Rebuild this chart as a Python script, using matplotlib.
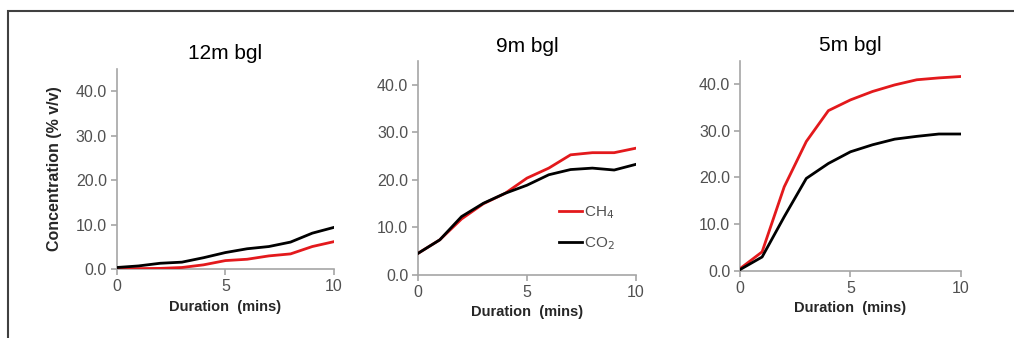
import matplotlib
matplotlib.use("Agg")
import matplotlib.pyplot as plt
from matplotlib.patches import Rectangle

plt.rcParams['font.family'] = ['Liberation Sans', 'DejaVu Sans']

# sampling times (minutes)
minutes = [0, 1, 2, 3, 4, 5, 6, 7, 8, 9, 10]

# gas concentrations (% v/v) at each depth
ch4_12m = [0.15, 0.15, 0.2, 0.4, 1.0, 1.95, 2.25, 3.0, 3.45, 5.1, 6.2]
co2_12m = [0.4, 0.75, 1.35, 1.6, 2.6, 3.75, 4.6, 5.1, 6.1, 8.1, 9.4]
ch4_9m = [4.55, 7.4, 11.8, 15.0, 17.2, 20.4, 22.5, 25.3, 25.75, 25.75, 26.7]
co2_9m = [4.55, 7.4, 12.3, 15.1, 17.2, 18.9, 21.1, 22.2, 22.5, 22.1, 23.3]
ch4_5m = [0.5, 4.1, 18.0, 27.7, 34.3, 36.6, 38.4, 39.8, 40.9, 41.3, 41.6]
co2_5m = [0.3, 3.0, 11.6, 19.8, 23.0, 25.5, 27.0, 28.2, 28.8, 29.3, 29.3]

panels = [
    ("12m bgl", ch4_12m, co2_12m, [0.1151, 0.2033, 0.2143, 0.5937]),
    ("9m bgl", ch4_9m, co2_9m, [0.4122, 0.1864, 0.2150, 0.6324]),
    ("5m bgl", ch4_5m, co2_5m, [0.7298, 0.1982, 0.2179, 0.6225]),
]

RED = '#e3191c'
GREY_TXT = '#505050'
GREY_AX = '#a6a6a6'

fig = plt.figure(figsize=(10.14, 3.38), dpi=100)

# outer frame (runs off the right and bottom edge like the source image)
fig.patches.append(Rectangle((8 / 1014, -0.1), 1.2, (338 - 11) / 338 + 0.1,
                             transform=fig.transFigure, fill=False,
                             edgecolor='#404040', linewidth=1.5))

axes = []
for title, ch4, co2, pos in panels:
    ax = fig.add_axes(pos)
    ax.plot(minutes, ch4, color=RED, lw=2.0, label='CH$_4$', zorder=3)
    ax.plot(minutes, co2, color='black', lw=2.0, label='CO$_2$', zorder=3)
    ax.set_xlim(0, 10)
    ax.set_ylim(0, 45)
    ax.set_xticks([0, 5, 10])
    ax.set_yticks([0, 10, 20, 30, 40])
    ax.set_yticklabels([f"{v:.1f}" for v in [0, 10, 20, 30, 40]])
    for s in ['top', 'right']:
        ax.spines[s].set_visible(False)
    for s in ['left', 'bottom']:
        ax.spines[s].set_color(GREY_AX)
        ax.spines[s].set_linewidth(1.2)
    ax.tick_params(direction='out', length=4, width=1.2, color=GREY_AX,
                   labelcolor=GREY_TXT, labelsize=11.5, pad=3)
    ax.set_title(title, fontsize=15, pad=7)
    ax.set_xlabel('Duration  (mins)', fontsize=10.5, fontweight='bold',
                  color='#262626', labelpad=4)
    ax.patch.set_visible(False)
    axes.append(ax)

axes[0].set_ylabel('Concentration (% v/v)', fontsize=11.5, fontweight='bold',
                   color='#262626', labelpad=10)

leg = axes[1].legend(loc='center left', bbox_to_anchor=(0.585, 0.22),
                     frameon=False, fontsize=11, handlelength=1.5,
                     handletextpad=0.1, labelspacing=0.95)
for t in leg.get_texts():
    t.set_color(GREY_TXT)

fig.savefig('out.png', dpi=100)
